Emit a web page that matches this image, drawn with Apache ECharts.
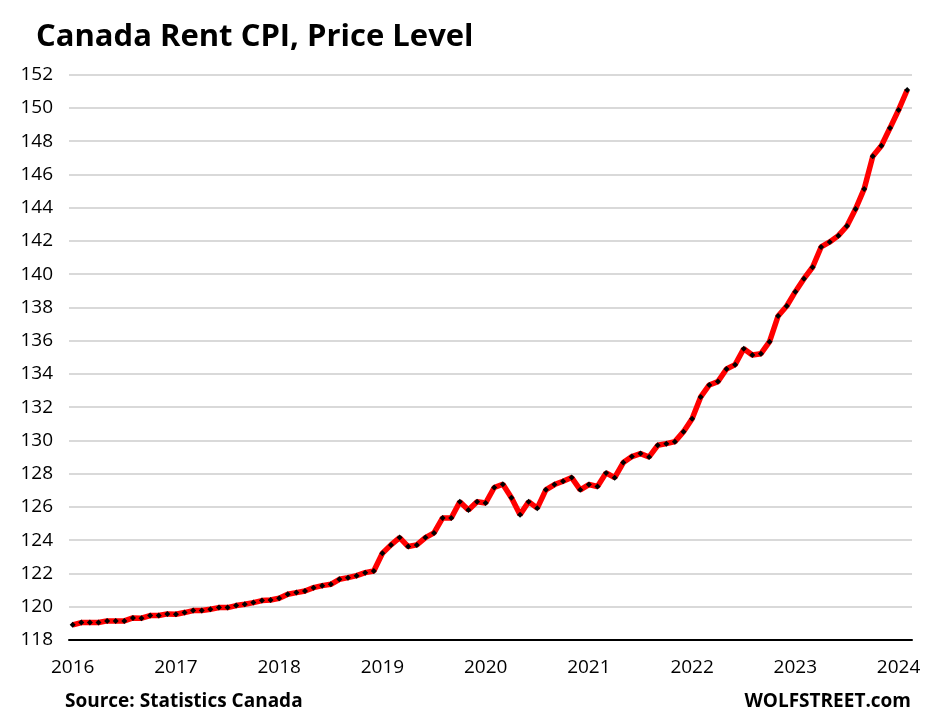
<!DOCTYPE html>
<html><head><meta charset="utf-8">
<script src="https://cdn.jsdelivr.net/npm/echarts@6/dist/echarts.min.js"></script>
<style>html,body{margin:0;padding:0;background:#fff}#c{width:925px;height:722px}</style>
</head><body><div id="c"></div>
<script>
const titleText = 'Canada Rent CPI, Price Level';
const sourceText = 'Source: Statistics Canada';
const brandText = 'WOLFSTREET.com';
const firstYear = 2016;
const yearTickMonths = [0, 12, 24, 36, 48, 60, 72, 84, 96];
const yTicks = [118, 120, 122, 124, 126, 128, 130, 132, 134, 136, 138, 140, 142, 144, 146, 148, 150, 152];
// monthly rent CPI, Jan 2016 .. Feb 2024
const rentIndex = [
  118.91,119.05,119.05,119.05,119.15,119.15,119.15,119.33,119.31,119.47,119.47,119.57,
  119.55,119.65,119.77,119.77,119.85,119.95,119.95,120.07,120.15,120.25,120.37,120.41,
  120.51,120.75,120.85,120.95,121.15,121.27,121.35,121.65,121.75,121.87,122.05,122.15,
  123.22,123.72,124.16,123.62,123.72,124.16,124.44,125.34,125.34,126.32,125.82,126.32,
  126.24,127.17,127.37,126.56,125.54,126.32,125.93,127.03,127.35,127.55,127.77,127.03,
  127.35,127.23,128.05,127.76,128.67,129.03,129.21,129.01,129.71,129.81,129.93,130.53,
  131.31,132.62,133.34,133.54,134.30,134.56,135.52,135.14,135.22,135.94,137.49,138.09,
  138.95,139.73,140.42,141.64,141.94,142.32,142.90,143.92,145.13,147.09,147.73,148.79,
  149.88,151.08
];
const font = "'Open Sans', sans-serif";
const seriesData = rentIndex.map((v, i) => [i, v]);
const chart = echarts.init(document.getElementById('c'), null, {renderer: 'canvas'});
chart.setOption({
  animation: false,
  backgroundColor: '#fff',
  title: [
    {text: titleText, left: 36, top: 22, padding: 0, textStyle: {fontFamily: font, fontSize: 31, fontWeight: 'bold', color: '#000'}},
    {text: sourceText, left: 65, top: 692, padding: 0, textStyle: {fontFamily: font, fontSize: 19, fontWeight: 'bold', color: '#000'}},
    {text: brandText, right: 14, top: 692, padding: 0, textStyle: {fontFamily: font, fontSize: 19, fontWeight: 'bold', color: '#000'}}
  ],
  grid: {left: 69, right: 13, top: 74.7, bottom: 82, containLabel: false},
  xAxis: {
    type: 'value', min: -0.43, max: 97.56,
    axisLine: {show: true, onZero: false, lineStyle: {color: '#000', width: 2}},
    axisTick: {show: false},
    splitLine: {show: false},
    axisLabel: {
      customValues: yearTickMonths, margin: 18,
      fontFamily: font, fontSize: 19, color: '#000',
      formatter: v => String(firstYear + Math.round(v / 12))
    }
  },
  yAxis: {
    type: 'value', min: yTicks[0], max: yTicks[yTicks.length - 1], interval: 2,
    axisLine: {show: false}, axisTick: {show: false},
    splitLine: {lineStyle: {color: '#d9d9d9', width: 2}},
    axisLabel: {margin: 16, fontFamily: font, fontSize: 19, color: '#000'}
  },
  series: [{
    type: 'line', data: seriesData,
    lineStyle: {color: '#ff0000', width: 5.5},
    symbol: 'diamond', symbolSize: 6, showSymbol: true,
    itemStyle: {color: '#000', borderWidth: 0},
    z: 3
  }]
});
</script></body></html>
